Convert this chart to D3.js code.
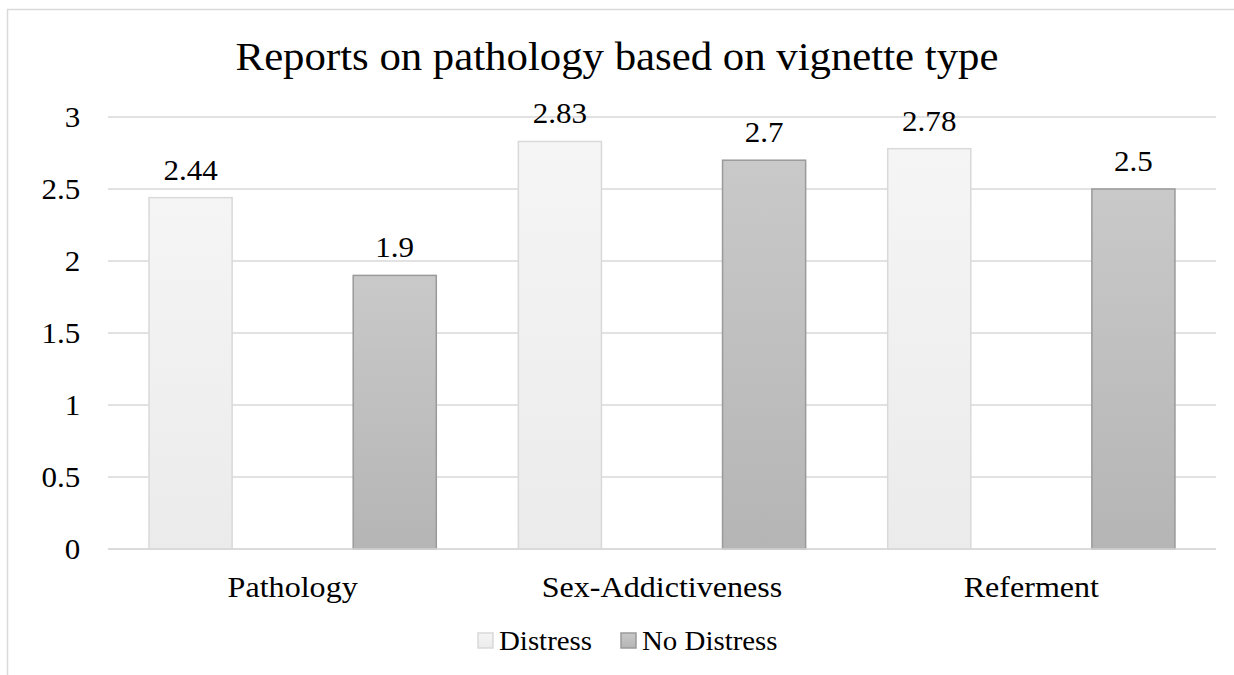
<!DOCTYPE html>
<html>
<head>
<meta charset="utf-8">
<script src="https://cdn.jsdelivr.net/npm/d3@7"></script>
<style>
  body { margin: 0; background: #fff; }
  text { font-family: "Liberation Serif", "Times New Roman", serif; fill: #000; }
</style>
</head>
<body>
<svg id="chart"></svg>
<script>
// chart data
const categories = ['Pathology', 'Sex-Addictiveness', 'Referment'];
const seriesNames = ['Distress', 'No Distress'];
const distress = [2.44, 2.83, 2.78];
const noDistress = [1.9, 2.7, 2.5];
const yTicks = [0, 0.5, 1, 1.5, 2, 2.5, 3];

const width = 1234, height = 675;
const margin = { top: 117, right: 18, bottom: 126, left: 108 };
const innerW = width - margin.left - margin.right;
const innerH = height - margin.top - margin.bottom;
// the original text is a bit wider than plain Times
const sx = 1.07;

const svg = d3.select('#chart')
    .attr('width', width)
    .attr('height', height);

// outer chart border (runs off right and bottom edge like the original)
svg.append('rect')
    .attr('x', 7.5).attr('y', 9.5)
    .attr('width', 1240).attr('height', 700)
    .attr('fill', 'none')
    .attr('stroke', '#d9d9d9')
    .attr('stroke-width', 1.5);

// gradients for bars
const defs = svg.append('defs');
const gradSpecs = [
    { id: 'gDistress', top: '#f5f5f5', bottom: '#ebebeb' },
    { id: 'gNoDistress', top: '#c9c9c9', bottom: '#b5b5b5' }
];
gradSpecs.forEach(g => {
    const lg = defs.append('linearGradient')
        .attr('id', g.id)
        .attr('x1', 0).attr('y1', 0).attr('x2', 0).attr('y2', 1);
    lg.append('stop').attr('offset', '0%').attr('stop-color', g.top);
    lg.append('stop').attr('offset', '100%').attr('stop-color', g.bottom);
});
const fills = ['url(#gDistress)', 'url(#gNoDistress)'];
const strokes = ['#d9d9d9', '#9a9a9a'];

const chart = svg.append('g')
    .attr('transform', `translate(${margin.left}, ${margin.top})`);

// scales
const x0 = d3.scaleBand()
    .domain(categories)
    .range([0, innerW])
    .padding(0);

const x1 = d3.scaleBand()
    .domain(seriesNames)
    .range([0, x0.bandwidth()])
    .paddingInner(0.593)
    .paddingOuter(0.201);

const y = d3.scaleLinear()
    .domain([0, 3])
    .range([innerH, 0]);

// gridlines
chart.append('g')
    .selectAll('line')
    .data(yTicks)
    .join('line')
        .attr('x1', 0)
        .attr('x2', innerW)
        .attr('y1', d => y(d))
        .attr('y2', d => y(d))
        .attr('stroke', '#d9d9d9')
        .attr('stroke-width', 1.5);

// y axis labels
const yAxis = chart.append('g')
    .call(d3.axisLeft(y).tickValues(yTicks).tickSize(0).tickPadding(26).tickFormat(d3.format('')));
yAxis.select('.domain').remove();
yAxis.selectAll('text')
    .attr('font-size', 29)
    .attr('dy', '0.34em')
    .attr('transform', `scale(${sx},1)`);

// bars
const rows = categories.map((c, i) => ({ cat: c, values: [distress[i], noDistress[i]] }));

const groups = chart.selectAll('.cat')
    .data(rows)
    .join('g')
        .attr('class', 'cat')
        .attr('transform', d => `translate(${x0(d.cat)}, 0)`);

groups.selectAll('rect')
    .data(d => d.values.map((v, j) => ({ series: seriesNames[j], j: j, value: v })))
    .join('rect')
        .attr('x', d => x1(d.series))
        .attr('y', d => y(d.value))
        .attr('width', x1.bandwidth())
        .attr('height', d => y(0) - y(d.value))
        .attr('fill', d => fills[d.j])
        .attr('stroke', d => strokes[d.j])
        .attr('stroke-width', 1.5);

groups.selectAll('text.val')
    .data(d => d.values.map((v, j) => ({ series: seriesNames[j], value: v })))
    .join('text')
        .attr('class', 'val')
        .attr('transform', d => `translate(${x1(d.series) + x1.bandwidth() / 2}, ${y(d.value) - 18}) scale(${sx},1)`)
        .attr('text-anchor', 'middle')
        .attr('font-size', 29)
        .text(d => d.value);

// baseline on top of bars
chart.append('line')
    .attr('x1', 0).attr('x2', innerW)
    .attr('y1', y(0)).attr('y2', y(0))
    .attr('stroke', '#d9d9d9')
    .attr('stroke-width', 1.5);

// category labels
const xAxis = chart.append('g')
    .attr('transform', `translate(0, ${innerH})`)
    .call(d3.axisBottom(x0).tickSize(0).tickPadding(27));
xAxis.select('.domain').remove();
xAxis.selectAll('text')
    .attr('font-size', 30)
    .attr('transform', `scale(${sx},1)`);

// title
svg.append('text')
    .attr('transform', `translate(617, 70) scale(${sx},1)`)
    .attr('text-anchor', 'middle')
    .attr('font-size', 40)
    .text('Reports on pathology based on vignette type');

// legend
const legendItems = [
    { name: seriesNames[0], x: 478 },
    { name: seriesNames[1], x: 621 }
];
const legend = svg.append('g');
legendItems.forEach((d, j) => {
    legend.append('rect')
        .attr('x', d.x).attr('y', 633)
        .attr('width', 15).attr('height', 15)
        .attr('fill', fills[j])
        .attr('stroke', strokes[j])
        .attr('stroke-width', 1.5);
    legend.append('text')
        .attr('transform', `translate(${d.x + 21}, 650) scale(${sx},1)`)
        .attr('font-size', 27)
        .text(d.name);
});
</script>
</body>
</html>
